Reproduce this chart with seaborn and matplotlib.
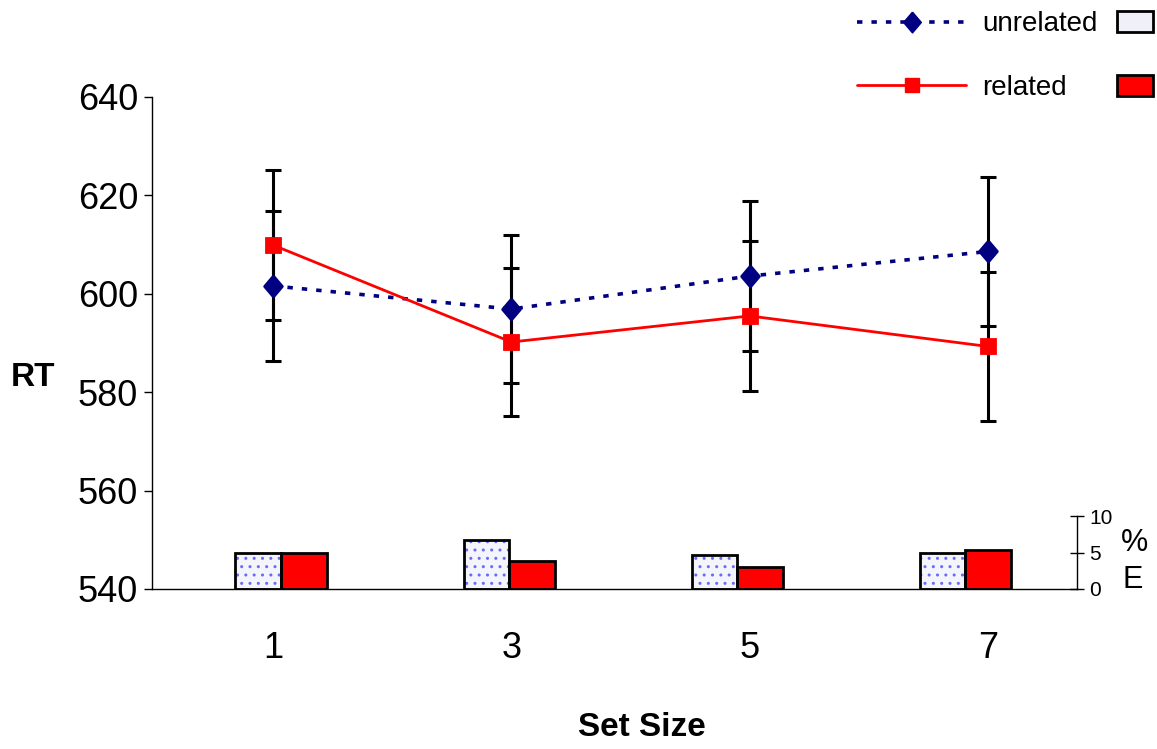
import numpy as np
import pandas as pd
import matplotlib
matplotlib.use('Agg')
import matplotlib.pyplot as plt
import matplotlib.patches as mpatches
from matplotlib.lines import Line2D
import seaborn as sns

# values
set_sizes = ['1', '3', '5', '7']
conditions = ['unrelated', 'related']
rt_unrelated = [601.6, 596.9, 603.6, 608.6]
rt_related = [609.9, 590.2, 595.5, 589.3]
ci_unrelated = [15.2, 15.1, 15.3, 15.2]
ci_related = [15.2, 15.1, 15.3, 15.2]
pct_err_unrelated = [5.0, 6.7, 4.6, 4.9]
pct_err_related = [5.0, 3.8, 3.0, 5.4]

line_colors = {'unrelated': '#000080', 'related': '#ff0000'}
bar_colors = {'unrelated': '#f4f4fb', 'related': '#ff0000'}
dotted = (0, (1.5, 2.5))
diamond = [(0, 1), (0.85, 0), (0, -1), (-0.85, 0), (0, 1)]

df = pd.DataFrame({
    'set_size': set_sizes * 2,
    'condition': ['unrelated'] * 4 + ['related'] * 4,
    'rt': rt_unrelated + rt_related,
    'pct_err': pct_err_unrelated + pct_err_related,
})

sns.set_style('white')
plt.rcParams['font.family'] = ['Liberation Sans', 'DejaVu Sans']
for key in ['text.color', 'axes.labelcolor', 'xtick.color', 'ytick.color']:
    plt.rcParams[key] = 'black'

W, H = 1157, 749
fig = plt.figure(figsize=(W / 100, H / 100), dpi=100)
rect = [152 / W, 1 - 589 / H, (1077 - 152) / W, (589 - 97) / H]
ax = fig.add_axes(rect)
ax2 = fig.add_axes(rect, label='errors')
ax.set_zorder(2)
ax2.set_zorder(1)
ax.patch.set_visible(False)

# error-rate bars on their own small scale
sns.barplot(data=df, x='set_size', y='pct_err', hue='condition', hue_order=conditions,
            order=set_sizes, palette=bar_colors, width=0.4, saturation=1,
            edgecolor='black', linewidth=2, legend=False, ax=ax2)
for bar in ax2.containers[0]:
    bar.set_hatch('..')
    bar.set_edgecolor('#6a6aff')
    bar.set_linewidth(0)
    ax2.add_patch(mpatches.Rectangle(bar.get_xy(), bar.get_width(), bar.get_height(),
                                     fill=False, edgecolor='black', linewidth=2))
ax2.set_ylim(0, 10 * 492 / 73)
ax2.set_xlim(-0.566, 3.49)
ax2.set_xticks([])
ax2.set_xlabel('')
ax2.set_ylabel('')
for s in ['top', 'left', 'bottom']:
    ax2.spines[s].set_visible(False)
ax2.spines['right'].set_bounds(0, 10)
ax2.spines['right'].set_linewidth(1)
ax2.spines['right'].set_color('black')
ax2.yaxis.tick_right()
ax2.set_yticks([0, 5, 10])
ax2.tick_params(axis='y', direction='inout', length=10, width=1, labelsize=15, pad=4)

# reaction time lines
sns.pointplot(data=df, x='set_size', y='rt', hue='condition', hue_order=conditions,
              order=set_sizes, palette=line_colors, markers=['D', 's'],
              linestyles=['-', '-'], errorbar=None, legend=False, ax=ax)
ln_u, ln_r = ax.lines[0], ax.lines[1]
ln_u.set_linestyle(dotted)
ln_u.set_linewidth(2.6)
ln_u.set_dash_capstyle('butt')
ln_u.set_marker(diamond)
ln_u.set_markersize(15)
ln_r.set_linewidth(2)
ln_r.set_markersize(10.5)
for ln in (ln_u, ln_r):
    ln.set_zorder(3)

xpos = np.arange(len(set_sizes))
ax.errorbar(xpos, rt_unrelated, yerr=ci_unrelated, fmt='none', ecolor='black',
            elinewidth=2.2, capsize=6, capthick=2.2, zorder=2)
ax.errorbar(xpos, rt_related, yerr=ci_related, fmt='none', ecolor='black',
            elinewidth=2.2, capsize=6, capthick=2.2, zorder=2)

ax.set_xlim(-0.508, 3.374)
ax.set_ylim(540, 640)
ax.set_yticks(range(540, 641, 20))
ax.set_xlabel('')
ax.set_ylabel('')
ax.tick_params(axis='y', direction='out', length=6, width=1, labelsize=26, pad=4, left=True)
ax.tick_params(axis='x', length=0, labelsize=26, pad=30)
for s in ['top', 'right']:
    ax.spines[s].set_visible(False)
for s in ['left', 'bottom']:
    ax.spines[s].set_linewidth(1)
    ax.spines[s].set_color('black')

# legend: lines with labels, then plain patches to the right
h_u = Line2D([], [], color=line_colors['unrelated'], linestyle=dotted, lw=2.6,
             dash_capstyle='butt', marker=diamond, markersize=15)
h_r = Line2D([], [], color=line_colors['related'], lw=2, marker='s', markersize=10.5)
fig.legend([h_u, h_r], conditions, loc='center', bbox_to_anchor=(0.845, 0.925),
           frameon=False, fontsize=20, handlelength=3.9, labelspacing=1.35,
           handletextpad=0.6)
p_u = mpatches.Patch(facecolor='#f0f0f8', edgecolor='black', lw=2)
p_r = mpatches.Patch(facecolor='#ff0000', edgecolor='black', lw=2)
fig.legend([p_u, p_r], ['', ''], loc='center', bbox_to_anchor=(0.981, 0.925),
           frameon=False, fontsize=20, handlelength=1.3, handleheight=0.8,
           handletextpad=0, labelspacing=1.35)

fig.text(33 / W, 1 - 378 / H, 'RT', fontsize=24, fontweight='bold', ha='center', va='center')
fig.text(642 / W, 1 - 728 / H, 'Set Size', fontsize=24, fontweight='bold', ha='center', va='center')
fig.text(1135 / W, 1 - 543 / H, '%', fontsize=22, ha='center', va='center')
fig.text(1133 / W, 1 - 580 / H, 'E', fontsize=22, ha='center', va='center')

fig.savefig('out.png', dpi=100)
